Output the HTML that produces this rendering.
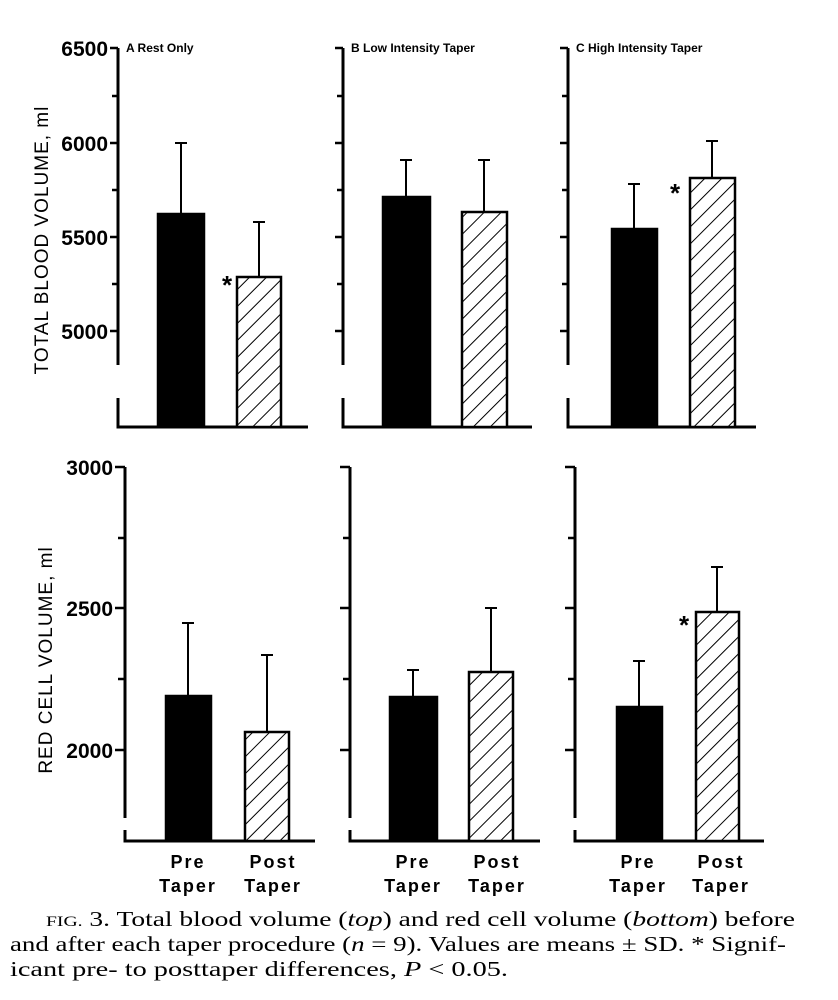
<!DOCTYPE html>
<html><head><meta charset="utf-8"><style>body{margin:0;background:#fff}svg{display:block}</style></head><body>
<svg width="838" height="1000" viewBox="0 0 838 1000" xmlns="http://www.w3.org/2000/svg" font-family="Liberation Sans, sans-serif">
<defs>
<pattern id="h" patternUnits="userSpaceOnUse" width="12" height="12" patternTransform="rotate(45)">
<rect width="12" height="12" fill="#fff"/><line x1="0" y1="0" x2="0" y2="12" stroke="#000" stroke-width="2"/>
</pattern>
</defs>
<g stroke="#000" stroke-width="3" fill="none">
<path d="M118 48V365M118 398V427H308"/>
<path d="M343 48V365M343 398V427H532"/>
<path d="M568 48V365M568 398V427H756"/>
<path d="M125 467V818M125 830V841H315"/>
<path d="M350 467V818M350 830V841H540"/>
<path d="M575 467V818M575 830V841H764"/>
</g>
<g stroke="#000" stroke-width="2.5">
<path d="M110 48H118M110 143H118M110 237H118M110 331H118M112 96H118M112 190H118M112 284H118"/>
<path d="M335 48H343M335 143H343M335 237H343M335 331H343M337 96H343M337 190H343M337 284H343"/>
<path d="M560 48H568M560 143H568M560 237H568M560 331H568M562 96H568M562 190H568M562 284H568"/>
<path d="M115 467H125M115 608H125M115 750H125M118 538H125M118 679H125"/>
<path d="M340 467H350M340 608H350M340 750H350M343 538H350M343 679H350"/>
<path d="M565 467H575M565 608H575M565 750H575M568 538H575M568 679H575"/>
</g>
<g stroke="#000" stroke-width="2">
<path d="M181 214V143M175 143H187"/>
<path d="M259 277V222M253 222H265"/>
<path d="M406 197V160M400 160H412"/>
<path d="M484 212V160M478 160H490"/>
<path d="M634 229V184M628 184H640"/>
<path d="M712 178V141M706 141H718"/>
<path d="M188 696V623M182 623H194"/>
<path d="M267 732V655M261 655H273"/>
<path d="M413 697V670M407 670H419"/>
<path d="M491 672V608M485 608H497"/>
<path d="M639 707V661M633 661H645"/>
<path d="M717 612V567M711 567H723"/>
</g>
<g stroke="#000" stroke-width="2.5">
<rect x="158" y="214" width="46" height="213" fill="#000"/>
<rect x="237" y="277" width="44" height="150" fill="url(#h)"/>
<rect x="383" y="197" width="47" height="230" fill="#000"/>
<rect x="462" y="212" width="45" height="215" fill="url(#h)"/>
<rect x="612" y="229" width="45" height="198" fill="#000"/>
<rect x="690" y="178" width="45" height="249" fill="url(#h)"/>
<rect x="166" y="696" width="45" height="145" fill="#000"/>
<rect x="245" y="732" width="44" height="109" fill="url(#h)"/>
<rect x="390" y="697" width="47" height="144" fill="#000"/>
<rect x="469" y="672" width="44" height="169" fill="url(#h)"/>
<rect x="617" y="707" width="45" height="134" fill="#000"/>
<rect x="696" y="612" width="43" height="229" fill="url(#h)"/>
</g>
<g font-weight="bold" font-size="21" text-anchor="end">
<text x="108" y="56">6500</text><text x="108" y="151">6000</text><text x="108" y="245">5500</text><text x="108" y="339">5000</text>
<text x="113" y="475">3000</text><text x="113" y="616">2500</text><text x="113" y="758">2000</text>
</g>
<g font-weight="bold" font-size="12">
<text x="126" y="52">A  Rest Only</text>
<text x="351" y="52">B  Low Intensity Taper</text>
<text x="576" y="52">C  High Intensity Taper</text>
</g>
<g font-size="26" font-weight="bold" text-anchor="middle">
<text x="227" y="294">*</text><text x="675" y="202">*</text><text x="684" y="634">*</text>
</g>
<text transform="translate(48,240) rotate(-90)" font-size="19" text-anchor="middle" letter-spacing="1">TOTAL BLOOD VOLUME, ml</text>
<text transform="translate(52,660) rotate(-90)" font-size="19" text-anchor="middle" letter-spacing="1">RED CELL VOLUME, ml</text>
<g font-weight="bold" font-size="18" text-anchor="middle" letter-spacing="2">
<text x="188" y="868">Pre</text><text x="188" y="892">Taper</text>
<text x="273" y="868">Post</text><text x="273" y="892">Taper</text>
<text x="413" y="868">Pre</text><text x="413" y="892">Taper</text>
<text x="497" y="868">Post</text><text x="497" y="892">Taper</text>
<text x="638" y="868">Pre</text><text x="638" y="892">Taper</text>
<text x="721" y="868">Post</text><text x="721" y="892">Taper</text>
</g>
<g font-family="Liberation Serif, serif" font-size="21">
<text x="46" y="926" textLength="749" lengthAdjust="spacingAndGlyphs"><tspan font-size="15">FIG.</tspan> 3.  Total blood volume (<tspan font-style="italic">top</tspan>) and red cell volume (<tspan font-style="italic">bottom</tspan>) before</text>
<text x="10" y="951" textLength="776" lengthAdjust="spacingAndGlyphs">and after each taper procedure (<tspan font-style="italic">n</tspan> = 9). Values are means ± SD. * Signif-</text>
<text x="10" y="976" textLength="498" lengthAdjust="spacingAndGlyphs">icant pre- to posttaper differences, <tspan font-style="italic">P</tspan> &lt; 0.05.</text>
</g>
</svg>
</body></html>
